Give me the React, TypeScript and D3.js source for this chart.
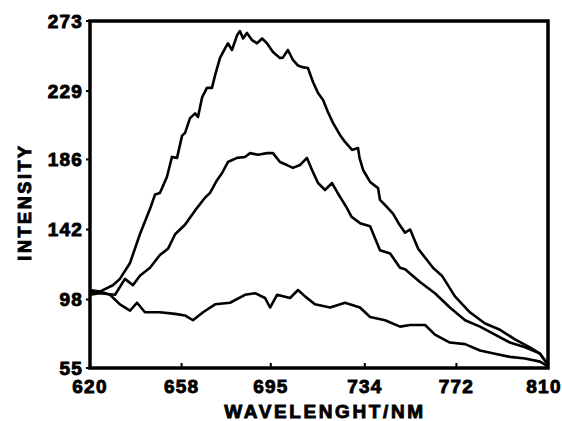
import React from "react";
import * as d3 from "d3";

const xTicks = [620, 658, 695, 734, 772, 810];
const yTicks = [55, 98, 142, 186, 229, 273];

const wlA = [620, 624, 629.5, 632.4, 636.6, 640.7, 644.9, 647, 649, 651.9, 652.4, 654, 656.1, 658.2, 659.4, 661.5, 663.6, 664.8, 666.5, 668.5, 670.6, 671.9, 673.9, 675.2, 677.2, 678.9, 681, 682.2, 683.5, 685.1, 687.2, 689.3, 691.4, 693.4, 695.9, 698.8, 700, 702.1, 704.2, 706.3, 708, 710.4, 712.5, 714.6, 716.7, 718.7, 720.8, 723.7, 725.8, 728.7, 731.2, 731.8, 733.3, 736.2, 739.5, 740.3, 743.6, 745.7, 748, 750.7, 752.8, 756.1, 762.3, 766, 771.4, 777.6, 783.9, 790.1, 796.3, 802.5, 806.7, 810];
const intA = [104, 103, 107, 111, 121, 139, 155, 164, 165, 175, 178, 187.6, 187, 201, 202.6, 212, 215, 212.7, 225, 231, 231, 239, 249.7, 253.5, 259, 254.8, 264, 266.7, 262, 265.5, 261, 259, 262, 259, 253.5, 249.7, 250, 254.8, 248.5, 245, 244, 243.5, 234.7, 227.8, 223.4, 215.8, 209, 201.4, 197, 192, 193.2, 187, 179.4, 171.9, 168, 160.6, 155.5, 152, 146, 140, 142, 130, 118, 113, 100, 90, 83, 79, 73, 68, 64, 57];

const wlB = [620, 624, 630.4, 634.5, 637.8, 640.7, 644.9, 649, 652.4, 655.3, 659.4, 663.6, 667.7, 669.8, 672.7, 674.8, 677.2, 681, 684.3, 686.4, 689.7, 693.4, 695.9, 698.8, 701.7, 704.2, 707.1, 710, 712.1, 714.6, 717.5, 720.4, 722.5, 724.5, 726.6, 728.5, 732, 736.2, 740.3, 744.5, 748.6, 750.7, 756.9, 763.1, 769.3, 775.6, 781.8, 788, 794.2, 800.5, 806.7, 810];
const intB = [101, 102, 101, 111, 107, 113, 118, 126, 130, 139, 145, 154, 162, 165, 173, 177.5, 184.4, 187, 187.6, 190, 189, 190, 190, 184.4, 182.5, 180.7, 182.5, 187, 179.4, 171.2, 166.8, 171.2, 165.6, 160.6, 155.5, 150, 146, 144, 129, 127, 118, 117, 109, 102, 93, 85, 81, 76, 71, 68, 64, 57];

const wlC = [620, 624, 628.3, 632.4, 636.6, 639.5, 642.8, 649, 655.3, 659.4, 662.7, 666.9, 671.9, 678.1, 684.3, 688.5, 692.6, 694.7, 697.6, 703, 706.3, 709.2, 713.3, 719.6, 725.8, 732, 736.2, 742.4, 748.6, 752.8, 759, 763.1, 769.3, 775.6, 781.8, 788, 794.2, 800.5, 806.7, 810];
const intC = [103, 103, 101, 95, 91, 96, 90, 90, 89, 88, 85, 90, 95, 96, 101, 102, 99, 93, 101, 99, 104, 100, 95, 93, 96, 93, 87, 85, 81, 82, 82, 76, 71, 70, 66, 64, 62, 61, 59, 56];

const W = 562, H = 421;
const L = 90, R = 548, T = 21, B = 368;
const FONT = "'Liberation Sans', Arial, sans-serif";

export default function App() {
  const x = d3.scaleLinear().domain([620, 810]).range([L, R]);
  const y = d3.scaleLinear().domain([55, 273]).range([B, T]);
  const line = d3.line<[number, number]>().x(d => x(d[0])).y(d => y(d[1]));
  const series = [
    wlA.map((w, i) => [w, intA[i]] as [number, number]),
    wlB.map((w, i) => [w, intB[i]] as [number, number]),
    wlC.map((w, i) => [w, intC[i]] as [number, number]),
  ];
  const textStyle = { fontFamily: FONT, fontWeight: 700, fontSize: 19, letterSpacing: 1.2 } as React.CSSProperties;
  return (
    <div style={{ position: "absolute", left: 0, top: 0 }}>
      <svg width={W} height={H} style={{ display: "block", background: "#fff" }}>
        {series.map((s, i) => (
          <path key={i} d={line(s) || ""} fill="none" stroke="#000" strokeWidth={2.6} strokeLinejoin="round" />
        ))}
        <rect x={L} y={T} width={R - L} height={B - T} fill="none" stroke="#000" strokeWidth={3.5} />
        {xTicks.map((t, i) => (
          <g key={"x" + t}>
            <line x1={x(t)} x2={x(t)} y1={B} y2={B - 5} stroke="#000" strokeWidth={2} />
            <text x={i === xTicks.length - 1 ? x(t) - 4 : x(t)} y={393} textAnchor="middle" style={textStyle} stroke="#000" strokeWidth={0.9}>{t}</text>
          </g>
        ))}
        {yTicks.map(t => (
          <g key={"y" + t}>
            <line x1={L} x2={L - 4} y1={y(t)} y2={y(t)} stroke="#000" strokeWidth={2} />
            <text x={83} y={y(t)} dy="0.36em" textAnchor="end" style={textStyle} stroke="#000" strokeWidth={0.9}>{t}</text>
          </g>
        ))}
        <text x={325} y={418} textAnchor="middle" style={{ ...textStyle, letterSpacing: 2.6 }} stroke="#000" strokeWidth={0.9}>WAVELENGHT/NM</text>
        <text transform={`translate(31,202) rotate(-90)`} textAnchor="middle" style={{ ...textStyle, fontSize: 18, letterSpacing: 2.6 }} stroke="#000" strokeWidth={0.9}>INTENSITY</text>
      </svg>
    </div>
  );
}
